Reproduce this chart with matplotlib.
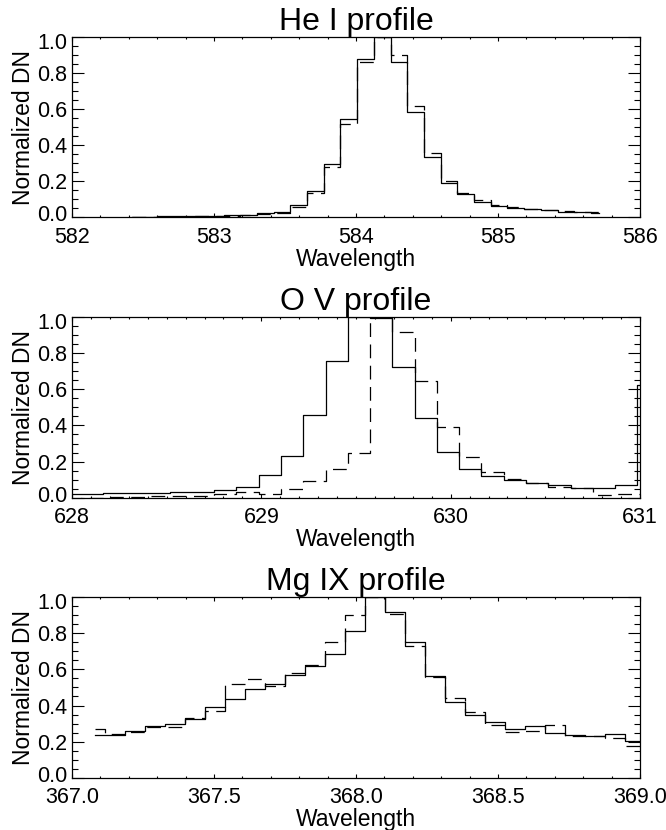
import matplotlib
matplotlib.use("Agg")
import matplotlib.pyplot as plt
from matplotlib.ticker import MultipleLocator, FormatStrFormatter
from matplotlib.transforms import ScaledTranslation

plt.rcParams["font.family"] = ["Liberation Sans", "DejaVu Sans"]

# --- He I 584 ---
hei_wave = [582.420, 582.538, 582.655, 582.773, 582.890, 583.008, 583.126, 583.243,
            583.361, 583.478, 583.596, 583.714, 583.831, 583.949, 584.066, 584.184,
            584.302, 584.419, 584.537, 584.654, 584.772, 584.890, 585.007, 585.125,
            585.242, 585.360, 585.478, 585.595, 585.713]
hei_solid = [0.004, 0.004, 0.005, 0.005, 0.006, 0.008, 0.010, 0.013,
             0.022, 0.031, 0.068, 0.146, 0.293, 0.544, 0.875, 1.000,
             0.862, 0.585, 0.332, 0.188, 0.127, 0.087, 0.065, 0.054,
             0.044, 0.039, 0.031, 0.028, 0.026]
hei_dash = [0.003, 0.003, 0.004, 0.004, 0.005, 0.007, 0.009, 0.012,
            0.018, 0.026, 0.059, 0.133, 0.280, 0.515, 0.858, 1.000,
            0.899, 0.616, 0.354, 0.203, 0.132, 0.094, 0.070, 0.057,
            0.047, 0.041, 0.034, 0.030, 0.027]

# --- O V 629 ---
ov_wave = [627.986, 628.104, 628.222, 628.339, 628.457, 628.575, 628.692, 628.810,
           628.927, 629.045, 629.163, 629.280, 629.398, 629.516, 629.633, 629.751,
           629.868, 629.986, 630.104, 630.221, 630.339, 630.457, 630.574, 630.692,
           630.809, 630.927, 631.045]
ov_solid = [0.018, 0.020, 0.024, 0.024, 0.028, 0.030, 0.033, 0.043,
            0.061, 0.126, 0.233, 0.458, 0.758, 1.000, 0.995, 0.726,
            0.444, 0.255, 0.157, 0.120, 0.098, 0.079, 0.070, 0.052,
            0.052, 0.070, 0.625]
ov_dash = [-0.005, 0.000, 0.003, 0.005, 0.007, 0.008, 0.012, 0.020,
           0.033, 0.020, 0.048, 0.092, 0.159, 0.246, 1.000, 0.920,
           0.647, 0.390, 0.227, 0.144, 0.102, 0.080, 0.061, 0.052,
           0.015, 0.018, 0.018]

# --- Mg IX 368 ---
mg_wave = [367.081, 367.151, 367.222, 367.292, 367.363, 367.433, 367.504, 367.574,
           367.644, 367.715, 367.785, 367.856, 367.926, 367.996, 368.067, 368.137,
           368.208, 368.278, 368.349, 368.419, 368.489, 368.560, 368.630, 368.701,
           368.771, 368.842, 368.912, 368.982, 369.053]
mg_solid = [0.237, 0.237, 0.261, 0.284, 0.297, 0.325, 0.389, 0.435,
            0.490, 0.521, 0.569, 0.618, 0.683, 0.815, 1.000, 0.916,
            0.750, 0.563, 0.422, 0.349, 0.306, 0.270, 0.288, 0.246,
            0.237, 0.229, 0.242, 0.206, 0.200]
mg_dash = [0.270, 0.240, 0.255, 0.279, 0.283, 0.328, 0.367, 0.521,
           0.545, 0.508, 0.582, 0.622, 0.752, 0.903, 1.000, 0.908,
           0.728, 0.560, 0.444, 0.365, 0.292, 0.255, 0.260, 0.294,
           0.233, 0.229, 0.218, 0.178, 0.170]

panels = [
    ("He I profile", hei_wave, hei_solid, hei_dash, (582, 586), 1.0, 0.2, "%d"),
    ("O V profile", ov_wave, ov_solid, ov_dash, (628, 631), 1.0, 0.1, "%d"),
    ("Mg IX profile", mg_wave, mg_solid, mg_dash, (367, 369), 0.5, 0.1, "%.1f"),
]
bottoms = [0.7382, 0.4004, 0.0630]

fig = plt.figure(figsize=(6.66, 8.30), dpi=100)

for (title, wave, solid, dash, xlim, xmaj, xmin, fmt), b in zip(panels, bottoms):
    ax = fig.add_axes([0.1081, b, 0.8529, 0.2175])
    ax.step(wave, solid, where="mid", color="black", lw=0.9)
    ax.step(wave, dash, where="mid", color="black", lw=0.9, ls=(0, (11, 6)))
    ax.set_xlim(*xlim)
    ax.set_ylim(0, 1.0)
    ax.xaxis.set_major_locator(MultipleLocator(xmaj))
    ax.xaxis.set_minor_locator(MultipleLocator(xmin))
    ax.xaxis.set_major_formatter(FormatStrFormatter(fmt))
    ax.set_yticks([0.0, 0.2, 0.4, 0.6, 0.8, 1.0])
    ax.yaxis.set_minor_locator(MultipleLocator(0.05))
    ax.yaxis.set_major_formatter(FormatStrFormatter("%.1f"))
    ax.tick_params(which="both", direction="in", top=True, right=True,
                   labelsize=15.5, width=0.8)
    ax.tick_params(axis="x", which="major", length=2.9, pad=7)
    ax.tick_params(axis="x", which="minor", length=1.5)
    ax.tick_params(axis="y", which="major", length=8.6, pad=3.6)
    ax.tick_params(axis="y", which="minor", length=4.3)
    for sp in ax.spines.values():
        sp.set_linewidth(0.9)
    ax.set_title(title, fontsize=23, pad=3.5)
    ax.set_xlabel("Wavelength", fontsize=16.5, labelpad=0)
    ax.set_ylabel("Normalized DN", fontsize=16.5, labelpad=1)

    # IDL-style: end labels sit just inside the plot box
    yt = ax.yaxis.get_major_ticks()
    lab0 = yt[0].label1
    lab0.set_transform(lab0.get_transform() + ScaledTranslation(0, 3 / 72, fig.dpi_scale_trans))
    lab1 = yt[-1].label1
    lab1.set_transform(lab1.get_transform() + ScaledTranslation(0, -3 / 72, fig.dpi_scale_trans))

fig.savefig("out.png", dpi=100)
